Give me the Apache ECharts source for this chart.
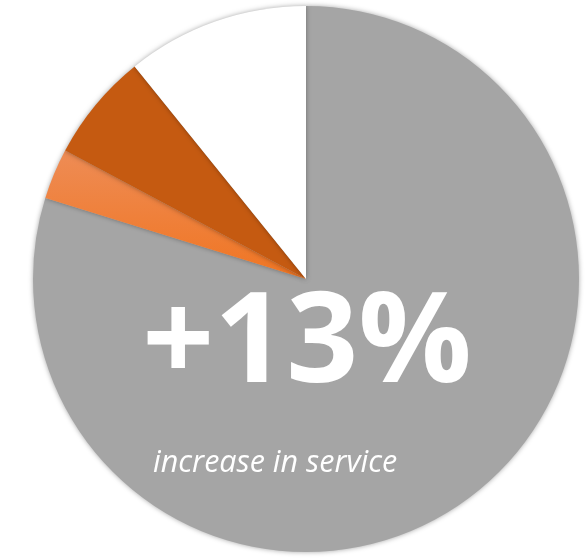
<!DOCTYPE html>
<html>
<head>
<meta charset="utf-8">
<script src="https://cdn.jsdelivr.net/npm/echarts@6/dist/echarts.min.js"></script>
<style>
html,body{margin:0;padding:0;background:#fff;}
#chart{width:585px;height:558px;}
</style>
</head>
<body>
<div id="chart"></div>
<script>
const categories = ['Other', 'Segment A', 'Segment B', 'Segment C'];
const values = [79.8, 3.0, 6.4, 10.8];
const headline = '+13%';
const subtitle = 'increase in service';

const colors = [
  '#A5A5A5',
  new echarts.graphic.LinearGradient(0, 0, 0, 1, [
    { offset: 0, color: '#EE8C55' },
    { offset: 1, color: '#F07522' }
  ]),
  '#C55A11',
  '#FFFFFF'
];

const chart = echarts.init(document.getElementById('chart'), null, { renderer: 'canvas' });
chart.setOption({
  animation: false,
  backgroundColor: '#ffffff',
  series: [{
    type: 'pie',
    center: [306, 279],
    radius: 273,
    startAngle: 90,
    clockwise: true,
    label: { show: false },
    labelLine: { show: false },
    emphasis: { disabled: true },
    itemStyle: {
      borderWidth: 0,
      shadowBlur: 5,
      shadowColor: 'rgba(0,0,0,0.35)'
    },
    data: categories.map((c, i) => ({
      name: c,
      value: values[i],
      itemStyle: { color: colors[i] }
    }))
  }],
  graphic: [
    {
      type: 'text',
      z: 100,
      x: 307,
      y: 346,
      style: {
        text: headline,
        fill: '#ffffff',
        font: 'bold 126px "Open Sans", sans-serif',
        align: 'center',
        verticalAlign: 'middle'
      }
    },
    {
      type: 'text',
      z: 100,
      x: 153,
      y: 463,
      style: {
        text: subtitle,
        fill: '#ffffff',
        font: 'italic 30.5px "Open Sans", sans-serif',
        align: 'left',
        verticalAlign: 'middle'
      }
    }
  ]
});
</script>
</body>
</html>
